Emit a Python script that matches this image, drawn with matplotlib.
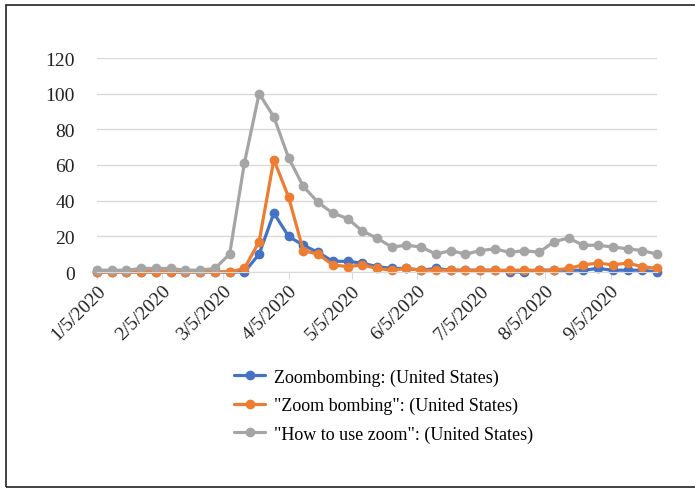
import matplotlib
matplotlib.use("Agg")
import matplotlib.pyplot as plt
import matplotlib.dates as mdates
from matplotlib.patches import Rectangle
import pandas as pd

weeks = pd.date_range("2020-01-05", periods=39, freq="7D")
zoombombing = [0, 0, 0, 0, 0, 0, 0, 0, 0, 0, 0, 10, 33, 20, 15, 11, 6, 6, 5, 3,
               2, 2, 1, 2, 1, 1, 1, 1, 0, 0, 1, 1, 1, 1, 2, 1, 1, 1, 0]
zoom_bombing = [0, 0, 0, 0, 0, 0, 0, 0, 0, 0, 2, 17, 63, 42, 12, 10, 4, 3, 4, 2,
                1, 2, 1, 1, 1, 1, 1, 1, 1, 1, 1, 1, 2, 4, 5, 4, 5, 3, 2]
how_to_use = [1, 1, 1, 2, 2, 2, 1, 1, 2, 10, 61, 100, 87, 64, 48, 39, 33, 30, 23, 19,
              14, 15, 14, 10, 12, 10, 12, 13, 11, 12, 11, 17, 19, 15, 15, 14, 13, 12, 10]
labels = ["Zoombombing: (United States)",
          "\"Zoom bombing\": (United States)",
          "\"How to use zoom\": (United States)"]
colors = ["#4472C4", "#ED7D31", "#A5A5A5"]
yticks = [0, 20, 40, 60, 80, 100, 120]

plt.rcParams["font.family"] = ["Liberation Serif", "DejaVu Serif"]

fig = plt.figure(figsize=(6.95, 4.89), dpi=100)
ax = fig.add_axes([97 / 695, (489 - 273) / 489, (657 - 97) / 695, (273 - 59) / 489])

for vals, lab, c in zip([zoombombing, zoom_bombing, how_to_use], labels, colors):
    ax.plot(weeks, vals, color=c, lw=2.3, marker="o", ms=6, label=lab,
            solid_capstyle="round", clip_on=False)

ax.set_xlim(weeks[0], weeks[-1])
ax.set_ylim(0, 120)
ax.set_yticks(yticks)
ax.yaxis.grid(True, color="#D9D9D9", lw=1)
ax.set_axisbelow(True)
ax.xaxis.set_major_locator(mdates.MonthLocator(bymonthday=5))
ax.xaxis.set_major_formatter(mdates.DateFormatter("%-m/%-d/%Y"))
for s in ["top", "right", "left"]:
    ax.spines[s].set_visible(False)
ax.spines["bottom"].set_color("#D9D9D9")
ax.tick_params(axis="y", length=0, labelsize=14, pad=16, colors="#222222")
ax.tick_params(axis="x", length=5, color="#D9D9D9", labelsize=14, pad=2, labelcolor="#222222")
for t in ax.get_xticklabels():
    t.set_rotation(45)
    t.set_ha("right")
    t.set_rotation_mode("anchor")

fig.legend(loc="upper left", bbox_to_anchor=(227 / 695, 1 - 362 / 489), frameon=False,
           fontsize=13, handlelength=1.7, handletextpad=0.5, labelspacing=0.62,
           borderaxespad=0)

fig.patches.append(Rectangle((5.5 / 695, 1.5 / 489), 1.0, (487 - 5) / 489,
                             transform=fig.transFigure, fill=False,
                             edgecolor="#222222", lw=1.2))

fig.savefig("out.png", dpi=100)
